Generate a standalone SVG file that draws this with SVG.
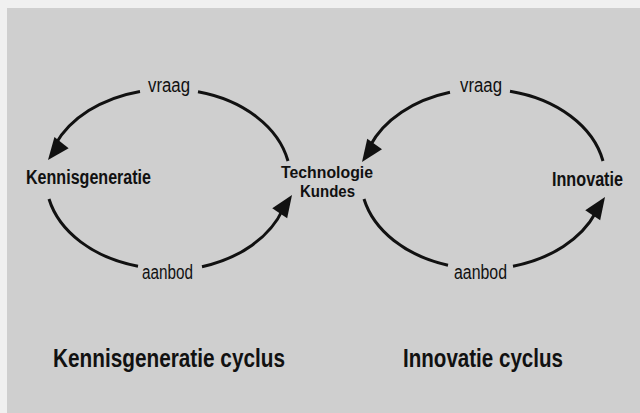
<svg xmlns="http://www.w3.org/2000/svg" xmlns:xlink="http://www.w3.org/1999/xlink" width="640" height="413" viewBox="0 0 640 413">
<style>
.lbl{font-family:"Liberation Sans",Arial,sans-serif;fill:#111;}
.reg{font-size:20px;font-weight:normal;}
.node{font-size:20px;font-weight:bold;}
.tech{font-size:17px;font-weight:bold;}
.title{font-size:26px;font-weight:bold;}
.arc{fill:none;stroke:#111;stroke-width:3;}
.head{fill:#111;}
</style>
<defs>
<path id="ah" d="M0,0 L-22,-9 L-22,9 Z"/>
</defs>
<rect x="0" y="0" width="640" height="413" fill="#f0f0f0"/>
<rect x="7" y="8" width="633" height="405" fill="#cfcfcf"/>
<g id="connectors">
<path class="arc" d="M 288 161 A 122 90 0 0 0 198 91.8"/>
<path class="arc" d="M 140 91.4 A 122 90 0 0 0 55 145"/>
<use class="head" xlink:href="#ah" transform="translate(48,160) rotate(128)"/>
<path class="arc" d="M 49 199 A 122 90 0 0 0 138 266.2"/>
<path class="arc" d="M 202 266.7 A 122 90 0 0 0 283 209"/>
<use class="head" xlink:href="#ah" transform="translate(292,195) rotate(-56)"/>
<path class="arc" d="M 603 161 A 122 90 0 0 0 510 91.2"/>
<path class="arc" d="M 450 92.3 A 122 90 0 0 0 370 146"/>
<use class="head" xlink:href="#ah" transform="translate(362,162) rotate(125)"/>
<path class="arc" d="M 364 199 A 122 90 0 0 0 448 265.2"/>
<path class="arc" d="M 513 266.2 A 122 90 0 0 0 596 212"/>
<use class="head" xlink:href="#ah" transform="translate(605,197) rotate(-56)"/>
</g>
<g id="edge-labels">
<text class="lbl reg" x="148" y="92" textLength="42" lengthAdjust="spacingAndGlyphs">vraag</text>
<text class="lbl reg" x="142" y="279" textLength="51" lengthAdjust="spacingAndGlyphs">aanbod</text>
<text class="lbl reg" x="460" y="92" textLength="42" lengthAdjust="spacingAndGlyphs">vraag</text>
<text class="lbl reg" x="454" y="279" textLength="53" lengthAdjust="spacingAndGlyphs">aanbod</text>
</g>
<g id="kennisgeneratie">
<text class="lbl node" x="26" y="184" textLength="125" lengthAdjust="spacingAndGlyphs">Kennisgeneratie</text>
</g>
<g id="technologie-kundes">
<text class="lbl tech" x="281" y="178" textLength="92" lengthAdjust="spacingAndGlyphs">Technologie</text>
<text class="lbl tech" x="300" y="197" textLength="55" lengthAdjust="spacingAndGlyphs">Kundes</text>
</g>
<g id="innovatie">
<text class="lbl node" x="552" y="186" textLength="71" lengthAdjust="spacingAndGlyphs">Innovatie</text>
</g>
<g id="titles">
<text class="lbl title" x="53" y="367" textLength="232" lengthAdjust="spacingAndGlyphs">Kennisgeneratie cyclus</text>
<text class="lbl title" x="403" y="367" textLength="160" lengthAdjust="spacingAndGlyphs">Innovatie cyclus</text>
</g>
</svg>
